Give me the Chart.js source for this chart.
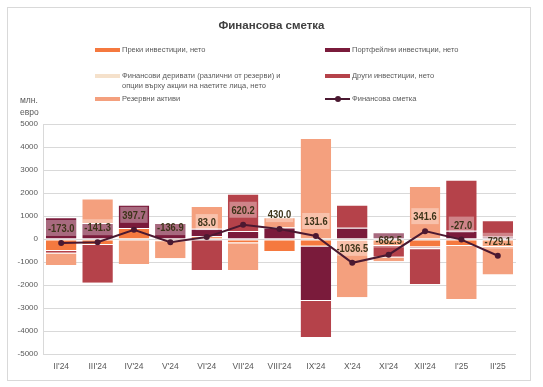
<!DOCTYPE html>
<html><head><meta charset="utf-8">
<script src="https://cdn.jsdelivr.net/npm/chart.js@4.4.1/dist/chart.umd.min.js"></script>
<style>
html,body{margin:0;padding:0;background:#fff;}
#wrap{position:relative;width:543px;height:387px;font-family:"Liberation Sans",Arial,sans-serif;overflow:hidden;}
#frame{position:absolute;left:7px;top:7px;width:524px;height:374px;border:1px solid #D9D9D9;box-sizing:border-box;}
canvas{position:absolute;left:0;top:0;}
.t{position:absolute;white-space:nowrap;color:#595959;}
.sw{position:absolute;width:25px;height:4px;}
</style></head>
<body>
<div id="wrap">
<div id="frame"></div>
<canvas id="c" width="543" height="387"></canvas>
<div class="t" style="left:0;width:543px;text-align:center;top:19px;font-weight:bold;font-size:11.5px;color:#404040;">Финансова сметка</div>

<div class="sw" style="left:95px;top:48px;background:#F5793F"></div>
<div class="t" style="left:122px;top:45px;font-size:7.5px;line-height:10px;">Преки инвестиции, нето</div>
<div class="sw" style="left:325px;top:48px;background:#7A1B3B"></div>
<div class="t" style="left:352px;top:45px;font-size:7.5px;line-height:10px;">Портфейлни инвестиции, нето</div>

<div class="sw" style="left:95px;top:74px;background:#F5E1CB"></div>
<div class="t" style="left:122px;top:71px;font-size:7.5px;line-height:9.5px;">Финансови деривати (различни от резерви) и<br>опции върху акции на наетите лица, нето</div>
<div class="sw" style="left:325px;top:74px;background:#B5424A"></div>
<div class="t" style="left:352px;top:71px;font-size:7.5px;line-height:10px;">Други инвестиции, нето</div>

<div class="sw" style="left:95px;top:97px;background:#F4A07E"></div>
<div class="t" style="left:122px;top:94px;font-size:7.5px;line-height:10px;">Резервни активи</div>
<div style="position:absolute;left:325px;top:98px;width:25px;height:2px;background:#4B1931"></div>
<div style="position:absolute;left:335px;top:96px;width:6px;height:6px;border-radius:3px;background:#4B1931"></div>
<div class="t" style="left:352px;top:94px;font-size:7.5px;line-height:10px;">Финансова сметка</div>

<div class="t" style="left:20px;top:95px;font-size:8.5px;line-height:10px;">млн.</div>
<div class="t" style="left:20px;top:107px;font-size:8.5px;line-height:10px;">евро</div>
</div>
<script>
const categories = ["II'24","III'24","IV'24","V'24","VI'24","VII'24","VIII'24","IX'24","X'24","XI'24","XII'24","I'25","II'25"];
const directInv    = [-480, -220,  480,  -50,   120, -150, -520,  -290,   -30, -260,  -330, -260, -300];
const portfolioInv = [ 950,  700, 1010,  700,   330,  350,  500, -2360,   490,  290,   -40,  360,  100];
const derivatives  = [   0,    0,    0,    0,     0,    0,    0,     0,     0,    0,   -30,    0,    0];
const otherInv     = [-115,-1680,    0,    0, -1350, 1620,    0, -1610,  1000, -510, -1560, 2220,  710];
const reserveAssets= [-530, 1060,-1090, -790,   980,-1200,  450,  4390, -2500, -200,  2300,-2350,-1240];
const financialAccount = [-173.0, -141.3, 397.7, -136.9, 83.0, 620.2, 430.0, 131.6, -1036.5, -682.5, 341.6, -27.0, -729.1];
const yTicks = [-5000,-4000,-3000,-2000,-1000,0,1000,2000,3000,4000,5000];

function barDs(label, data, color){
  return {type:'bar', label, data, backgroundColor:color, borderColor:'#ffffff',
    borderWidth:{top:1,bottom:0,left:0,right:0}, borderSkipped:false,
    barPercentage:0.84, categoryPercentage:1, stack:'s'};
}
const LINE_IDX = 0;
const labelBoxes = {
  id:'labelBoxes',
  beforeDatasetDraw(chart, args){
    if(args.index !== LINE_IDX) return;
    const meta = chart.getDatasetMeta(LINE_IDX);
    const ctx = chart.ctx;
    ctx.save();
    ctx.font = 'bold 11px "Liberation Sans", Arial, sans-serif';
    meta.data.forEach((pt,i)=>{
      const txt = financialAccount[i].toFixed(1);
      const w = ctx.measureText(txt).width*0.85;
      ctx.fillStyle = 'rgba(255,255,255,0.35)';
      ctx.fillRect(pt.x - w/2 - 2, pt.y - 15 - 8, w + 4, 16);
    });
    ctx.restore();
  },
  afterDatasetsDraw(chart){
    const meta = chart.getDatasetMeta(LINE_IDX);
    const ctx = chart.ctx;
    ctx.save();
    ctx.font = 'bold 11px "Liberation Sans", Arial, sans-serif';
    ctx.fillStyle = '#3D3419';
    ctx.textAlign = 'center';
    ctx.textBaseline = 'middle';
    meta.data.forEach((pt,i)=>{
      const txt = financialAccount[i].toFixed(1);
      ctx.save();
      ctx.translate(pt.x, pt.y - 15);
      ctx.scale(0.85,1);
      ctx.fillText(txt, 0, 1);
      ctx.restore();
    });
    ctx.restore();
  }
};

new Chart(document.getElementById('c'), {
  data:{
    labels: categories,
    datasets:[
      {type:'line', label:'Финансова сметка', data:financialAccount, borderColor:'#4B1931', backgroundColor:'#4B1931',
       borderWidth:2, pointRadius:3, pointBorderWidth:0, pointBackgroundColor:'#4B1931', tension:0, stack:'line'},
      barDs('Преки инвестиции, нето', directInv, '#F5793F'),
      barDs('Портфейлни инвестиции, нето', portfolioInv, '#7A1B3B'),
      barDs('Финансови деривати (различни от резерви) и опции върху акции на наетите лица, нето', derivatives, '#F5E1CB'),
      barDs('Други инвестиции, нето', otherInv, '#B5424A'),
      barDs('Резервни активи', reserveAssets, '#F4A07E')
    ]
  },
  options:{
    responsive:false, animation:false, devicePixelRatio:1,
    layout:{padding:{left:7,right:27,top:124,bottom:9}},
    plugins:{legend:{display:false}, title:{display:false}, tooltip:{enabled:false}},
    scales:{
      x:{stacked:true, grid:{display:false, drawTicks:false}, border:{display:false},
         ticks:{font:{family:'"Liberation Sans", Arial, sans-serif', size:8.5}, color:'#595959', padding:8, maxRotation:0, autoSkip:false},
         afterFit(s){ s.height = 24; }},
      y:{stacked:true, min:-5000, max:5000,
         afterBuildTicks(s){ s.ticks = yTicks.map(v=>({value:v})); },
         grid:{color:'#D9D9D9', drawTicks:false, lineWidth:1},
         border:{display:true, color:'#D9D9D9'},
         ticks:{font:{family:'"Liberation Sans", Arial, sans-serif', size:8}, color:'#595959', padding:5,
                callback:(v)=>String(v)},
         afterFit(s){ s.width = 36; }}
    }
  },
  plugins:[labelBoxes]
});
</script>
</body></html>
